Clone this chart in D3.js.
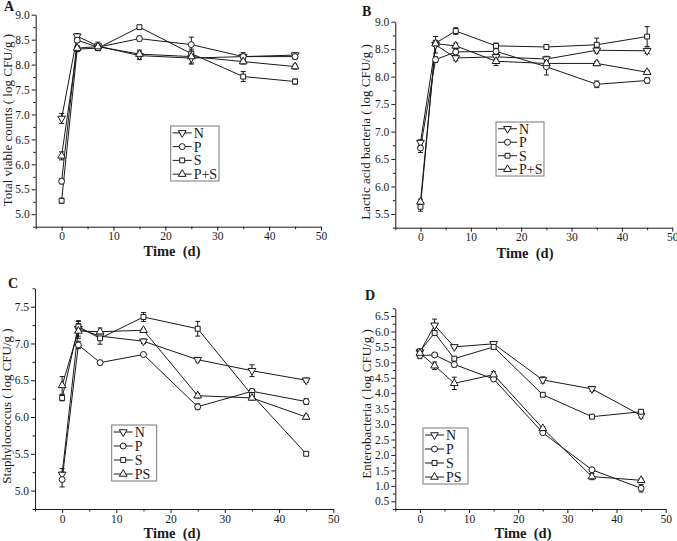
<!DOCTYPE html>
<html><head><meta charset="utf-8">
<script src="https://cdn.jsdelivr.net/npm/d3@7"></script>
<style>body{margin:0;background:#fff}svg{display:block}</style>
</head><body>
<svg id="c" width="677" height="541"></svg>
<script>
const days = [0, 3, 7, 15, 25, 35, 45];
const xTicks = [0, 10, 20, 30, 40, 50];

// Panel A: Total viable counts
const aN  = [6.92, 8.57, 8.37, 8.18, 8.13, 8.16, 8.19];
const aP  = [5.66, 8.49, 8.35, 8.52, 8.40, 8.16, 8.16];
const aS  = [5.27, 8.31, 8.33, 8.75, 8.22, 7.76, 7.66];
const aPS = [6.17, 8.33, 8.36, 8.21, 8.16, 8.06, 7.96];
const aNe  = [0.10, 0.05, 0.08, 0.08, 0.10, 0.08, 0.05];
const aPe  = [0.05, 0.05, 0.05, 0.05, 0.15, 0.05, 0.05];
const aSe  = [0.05, 0.05, 0.05, 0.03, 0.05, 0.10, 0.05];
const aPSe = [0.08, 0.05, 0.05, 0.08, 0.15, 0.05, 0.05];

// Panel B: Lactic acid bacteria
const bN  = [6.80, 8.58, 8.34, 8.36, 8.32, 8.48, 8.47];
const bP  = [6.70, 8.31, 8.45, 8.46, 8.18, 7.86, 7.93];
const bS  = [5.63, 8.61, 8.83, 8.56, 8.54, 8.58, 8.73];
const bPS = [5.72, 8.60, 8.56, 8.28, 8.24, 8.24, 8.08];
const bNe  = [0.05, 0.15, 0.05, 0.05, 0.05, 0.05, 0.05];
const bPe  = [0.08, 0.05, 0.05, 0.05, 0.15, 0.06, 0.05];
const bSe  = [0.08, 0.05, 0.06, 0.05, 0.04, 0.12, 0.18];
const bPSe = [0.05, 0.05, 0.05, 0.08, 0.05, 0.04, 0.03];

// Panel C: Staphylococcus
const cN  = [5.22, 7.20, 7.10, 7.03, 6.78, 6.63, 6.50];
const cP  = [5.15, 6.98, 6.74, 6.85, 6.14, 6.35, 6.21];
const cS  = [6.26, 7.23, 7.07, 7.36, 7.20, 6.30, 5.50];
const cPS = [6.43, 7.17, 7.16, 7.18, 6.29, 6.26, 6.00];
const cNe  = [0.08, 0.10, 0.05, 0.03, 0.03, 0.08, 0.03];
const cPe  = [0.10, 0.05, 0.03, 0.02, 0.04, 0.03, 0.04];
const cSe  = [0.04, 0.08, 0.08, 0.06, 0.10, 0.04, 0.02];
const cPSe = [0.12, 0.10, 0.05, 0.02, 0.03, 0.03, 0.03];

// Panel D: Enterobacteria
const dN  = [5.33, 6.20, 5.50, 5.60, 4.43, 4.14, 3.28];
const dP  = [5.22, 5.24, 4.93, 4.46, 2.72, 1.52, 0.92];
const dS  = [5.36, 5.95, 5.12, 5.50, 3.95, 3.24, 3.40];
const dPS = [5.30, 4.89, 4.32, 4.60, 2.86, 1.30, 1.18];
const dNe  = [0.08, 0.20, 0.05, 0.05, 0.10, 0.08, 0.08];
const dPe  = [0.10, 0.05, 0.08, 0.05, 0.05, 0.05, 0.12];
const dSe  = [0.05, 0.08, 0.05, 0.05, 0.04, 0.03, 0.06];
const dPSe = [0.05, 0.12, 0.20, 0.10, 0.06, 0.10, 0.06];

const markers = ["tdown", "circle", "square", "tup"];

const panels = [
  {letter:"A", lx:4, ly:11, L:35.7, R:321, T:14.7, B:226.7, y0:4.75, y1:9.0, yt0:5.0, yt1:9.0,
   ylab:"Total viable counts ( log CFU/g )", ylx:9, yly:120, tx:172, ty:256,
   names:["N","P","S","P+S"], data:[aN,aP,aS,aPS], err:[aNe,aPe,aSe,aPSe],
   leg:{x:170.7, y:126, w:48.3, h:55}},
  {letter:"B", lx:362, ly:16, L:395.3, R:672.3, T:21.7, B:227.7, y0:5.25, y1:9.0, yt0:5.5, yt1:9.0,
   ylab:"Lactic acid bacteria ( log CFU/g )", ylx:367, yly:132, tx:525, ty:258,
   names:["N","P","S","P+S"], data:[bN,bP,bS,bPS], err:[bNe,bPe,bSe,bPSe],
   leg:{x:496, y:122, w:48, h:54}},
  {letter:"C", lx:8, ly:288, L:35, R:333.3, T:288.3, B:509, y0:4.75, y1:7.75, yt0:5.0, yt1:7.5,
   ylab:"Staphylococcus ( log CFU/g )", ylx:8, yly:406, tx:172, ty:538,
   names:["N","P","S","PS"], data:[cN,cP,cS,cPS], err:[cNe,cPe,cSe,cPSe],
   leg:{x:111.7, y:425, w:45, h:56}},
  {letter:"D", lx:365, ly:300, L:395.3, R:665.7, T:308.3, B:509, y0:0.25, y1:6.75, yt0:0.5, yt1:6.5,
   ylab:"Enterobacteria ( log CFU/g )", ylx:368, yly:404, tx:523, ty:538,
   names:["N","P","S","PS"], data:[dN,dP,dS,dPS], err:[dNe,dPe,dSe,dPSe],
   leg:{x:423, y:428, w:45, h:56}}
];

const svg = d3.select("#c");
const FONT = "'Liberation Serif','Times New Roman',serif";
const ink = "#1a1a1a";

function drawMarker(g, type, x, y) {
  let sym, rot = 0, size;
  if (type === "circle") { sym = d3.symbolCircle; size = 28; }
  else if (type === "square") { sym = d3.symbolSquare; size = 24; }
  else { sym = d3.symbolTriangle; size = 26; if (type === "tdown") rot = 180; }
  g.append("path")
    .attr("d", d3.symbol().type(sym).size(size)())
    .attr("transform", `translate(${x},${y}) rotate(${rot})`)
    .attr("fill", "#fff").attr("stroke", ink).attr("stroke-width", 1);
}

panels.forEach(p => {
  const x = d3.scaleLinear().domain([-5, 50]).range([p.L, p.R]);
  const y = d3.scaleLinear().domain([p.y0, p.y1]).range([p.B, p.T]);
  const g = svg.append("g");

  // y axis
  const yTickVals = d3.range(p.yt0, p.yt1 + 0.001, 0.5);
  const yMinor = d3.range(p.y0, p.y1 + 0.001, 0.25).filter(v => !yTickVals.some(t => Math.abs(t - v) < 1e-6));
  g.append("g").attr("transform", `translate(${p.L},0)`)
    .call(d3.axisLeft(y).tickValues(yTickVals).tickFormat(d3.format(".1f")).tickSize(4).tickPadding(2).tickSizeOuter(0));
  g.append("g").attr("transform", `translate(${p.L},0)`)
    .call(d3.axisLeft(y).tickValues(yMinor).tickFormat("").tickSize(2.5).tickSizeOuter(0))
    .select(".domain").remove();

  // x axis
  const xMinor = [-5, 5, 15, 25, 35, 45];
  g.append("g").attr("transform", `translate(0,${p.B})`)
    .call(d3.axisBottom(x).tickValues(xTicks).tickFormat(d3.format("d")).tickSize(4).tickPadding(1.5).tickSizeOuter(0));
  g.append("g").attr("transform", `translate(0,${p.B})`)
    .call(d3.axisBottom(x).tickValues(xMinor).tickFormat("").tickSize(2.5).tickSizeOuter(0))
    .select(".domain").remove();

  g.selectAll(".domain").attr("stroke", ink).attr("stroke-width", 1);
  g.selectAll(".tick line").attr("stroke", ink);
  g.selectAll(".tick text").attr("font-family", FONT).attr("font-size", 11.5).attr("fill", ink);

  // series
  p.data.forEach((vals, si) => {
    const pts = days.map((d, i) => [x(d), y(vals[i])]);
    g.append("path").attr("d", d3.line()(pts))
      .attr("fill", "none").attr("stroke", ink).attr("stroke-width", 1);
    days.forEach((d, i) => {
      const e = p.err[si][i];
      const cx = x(d), yt = y(vals[i] + e), yb = y(vals[i] - e);
      g.append("line").attr("x1", cx).attr("x2", cx).attr("y1", yt).attr("y2", yb).attr("stroke", ink);
      g.append("line").attr("x1", cx - 2.5).attr("x2", cx + 2.5).attr("y1", yt).attr("y2", yt).attr("stroke", ink);
      g.append("line").attr("x1", cx - 2.5).attr("x2", cx + 2.5).attr("y1", yb).attr("y2", yb).attr("stroke", ink);
    });
  });
  p.data.forEach((vals, si) => {
    days.forEach((d, i) => drawMarker(g, markers[si], x(d), y(vals[i])));
  });

  // legend
  const lg = p.leg;
  g.append("rect").attr("x", lg.x).attr("y", lg.y).attr("width", lg.w).attr("height", lg.h)
    .attr("fill", "#fff").attr("stroke", "#777").attr("stroke-width", 1);
  const step = lg.h / 4;
  p.names.forEach((nm, i) => {
    const yy = lg.y + step * (i + 0.5);
    g.append("line").attr("x1", lg.x + 2).attr("x2", lg.x + 21).attr("y1", yy).attr("y2", yy)
      .attr("stroke", ink).attr("stroke-width", 1);
    drawMarker(g, markers[i], lg.x + 11.5, yy);
    g.append("text").attr("x", lg.x + 23).attr("y", yy + 5).text(nm)
      .attr("font-family", FONT).attr("font-size", 14).attr("fill", ink);
  });

  // labels
  g.append("text").attr("x", p.lx).attr("y", p.ly).text(p.letter)
    .attr("font-family", FONT).attr("font-weight", "bold").attr("font-size", 14).attr("fill", ink);
  g.append("text").attr("transform", `translate(${p.ylx},${p.yly}) rotate(-90)`)
    .attr("text-anchor", "middle").attr("dominant-baseline", "middle").text(p.ylab)
    .attr("font-family", FONT).attr("font-size", 13).attr("fill", ink);
  g.append("text").attr("x", p.tx).attr("y", p.ty).attr("text-anchor", "middle")
    .text("Time\u00a0\u00a0(d)")
    .attr("font-family", FONT).attr("font-weight", "bold").attr("font-size", 14.5).attr("fill", ink);
});
</script>
</body></html>
